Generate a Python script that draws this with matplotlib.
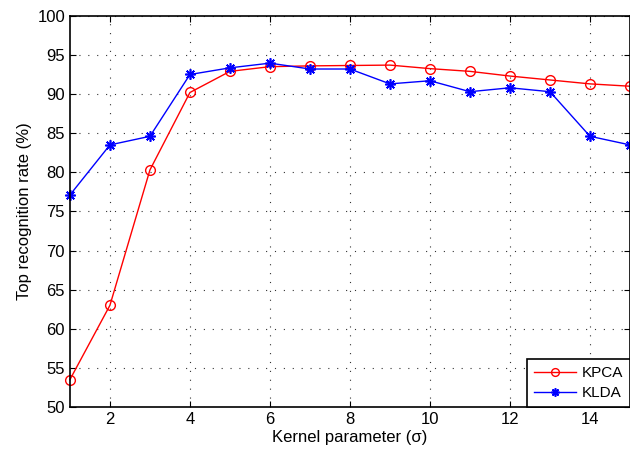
import numpy as np
import matplotlib
matplotlib.use("Agg")
import matplotlib.pyplot as plt

plt.rcParams['font.family'] = ['Liberation Sans', 'DejaVu Sans']

# kernel width sigma and recognition rates (%)
sigma = [1, 2, 3, 4, 5, 6, 7, 8, 9, 10, 11, 12, 13, 14, 15]
kpca = [53.5, 63.0, 80.3, 90.2, 92.9, 93.5, 93.6, 93.65, 93.7, 93.25, 92.9, 92.3, 91.8, 91.3, 91.0]
klda = [77.1, 83.5, 84.6, 92.5, 93.35, 93.95, 93.2, 93.2, 91.3, 91.7, 90.3, 90.8, 90.3, 84.6, 83.5]

fig = plt.figure(figsize=(6.3, 4.57), dpi=100)
ax = fig.add_axes([0.111, 0.1094, 0.889, 0.856])

ax.plot(sigma, kpca, color='red', marker='o', markersize=7, markerfacecolor='none',
        markeredgewidth=1.0, linewidth=1.0, label='KPCA', clip_on=False)
ax.plot(sigma, klda, color='blue', marker=(8, 2, 0), markersize=7.5,
        markeredgewidth=1.2, linewidth=1.0, label='KLDA', clip_on=False)

ax.set_xlim(1, 15)
ax.set_ylim(50, 100)
ax.set_xticks([2, 4, 6, 8, 10, 12, 14])
ax.set_yticks(np.arange(50, 101, 5))
ax.tick_params(direction='in', top=True, right=True, labelsize=12, length=4)
ax.grid(True, linestyle=(0, (1, 7)), color='#333333', linewidth=0.8)

for s in ax.spines.values():
    s.set_linewidth(1.2)

ax.set_xlabel('Kernel parameter (σ)', fontsize=12, labelpad=2)
ax.set_ylabel('Top recognition rate (%)', fontsize=12)

leg = ax.legend(loc='lower right', fontsize=11, fancybox=False, framealpha=1,
                edgecolor='black', borderaxespad=0, handlelength=2.8,
                handletextpad=0.35, markerscale=0.8,
                borderpad=0.45, labelspacing=0.4)
leg.get_frame().set_linewidth(1.2)

fig.savefig('out.png', dpi=100)
